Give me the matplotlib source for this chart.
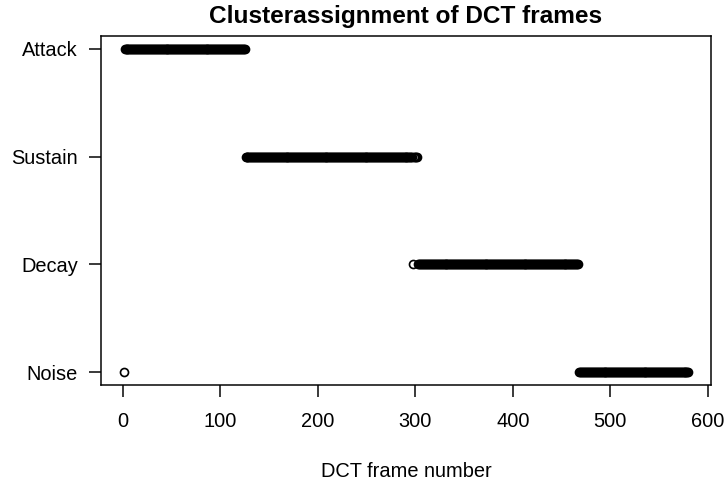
import numpy as np
import matplotlib
matplotlib.use("Agg")
import matplotlib.pyplot as plt

# cluster labels (y axis, bottom to top)
labels = ["Noise", "Decay", "Sustain", "Attack"]

# frame numbers assigned to each cluster
noise_frames = [1] + list(range(468, 581))
decay_frames = [298] + list(range(303, 468))
sustain_frames = list(range(126, 298)) + list(range(299, 303))
attack_frames = list(range(2, 126))

frames = [noise_frames, decay_frames, sustain_frames, attack_frames]

plt.rcParams["font.family"] = ["Liberation Sans", "DejaVu Sans"]

dpi = 72
fig = plt.figure(figsize=(728 / dpi, 481 / dpi), dpi=dpi)
ax = fig.add_axes([101 / 728, 1 - 385 / 481, 610 / 728, 349 / 481])

for i, fr in enumerate(frames):
    ax.plot(fr, np.full(len(fr), i + 1), linestyle="none", marker="o",
            markersize=8, markerfacecolor="none", markeredgecolor="black",
            markeredgewidth=1.7)

ax.set_xlim(1 - 0.04 * 579, 580 + 0.04 * 579)
ax.set_ylim(1 - 0.04 * 3, 4 + 0.04 * 3)
ax.set_xticks([0, 100, 200, 300, 400, 500, 600])
ax.set_yticks([1, 2, 3, 4])
ax.set_yticklabels(labels)

for s in ax.spines.values():
    s.set_linewidth(1.5)
ax.tick_params(axis="both", direction="out", length=12, width=1.5, labelsize=20)
ax.tick_params(axis="x", pad=15)
ax.tick_params(axis="y", pad=11)

ax.set_title("Clusterassignment of DCT frames", fontsize=24.4, fontweight="bold", pad=13)
ax.set_xlabel("DCT frame number", fontsize=20, labelpad=31)

fig.savefig("out.png", dpi=dpi)
